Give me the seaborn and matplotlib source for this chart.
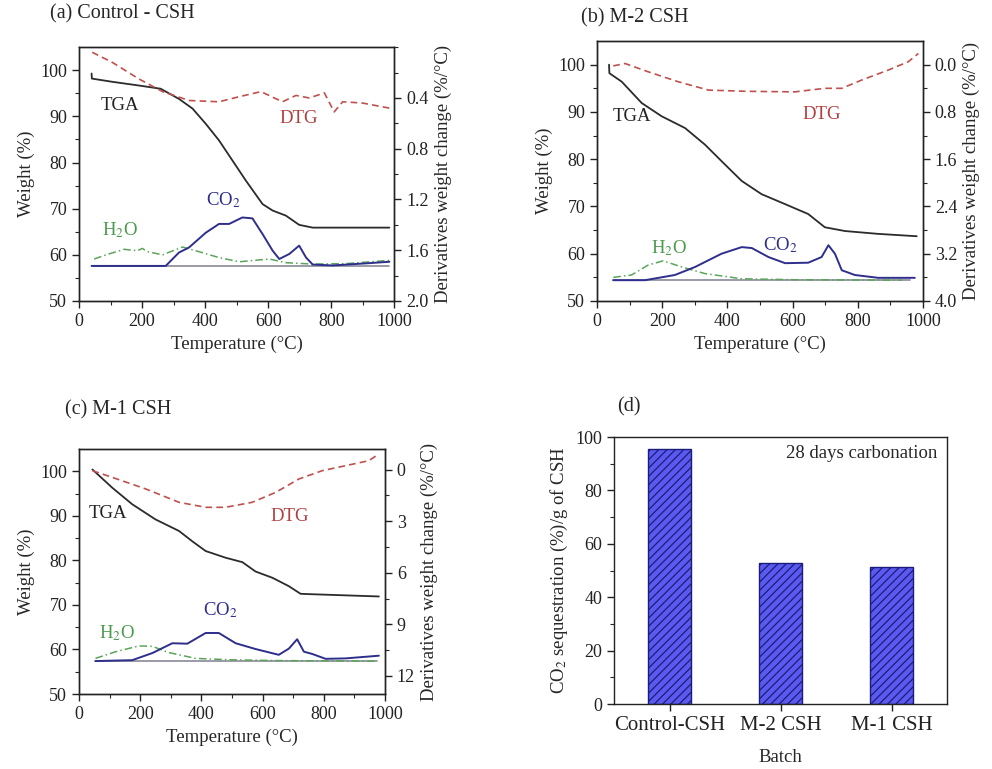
import numpy as np
import pandas as pd
import matplotlib
matplotlib.use("Agg")
import matplotlib.pyplot as plt
import seaborn as sns

# ---------------- data ----------------
# Panel (a) Control - CSH
a_tga_x = [40, 41, 106, 190, 259, 317, 360, 402, 444, 487, 529, 582, 614, 656, 698, 741, 984]
a_tga_y = [99.3, 98.2, 97.5, 96.7, 96.0, 93.8, 91.7, 88.4, 84.8, 80.4, 76.1, 71.0, 69.6, 68.5, 66.5, 65.9, 65.9]
a_dtg_x = [42, 106, 190, 265, 349, 444, 508, 577, 645, 688, 730, 778, 809, 836, 899, 984]
a_dtg_y = [0.04, 0.12, 0.25, 0.35, 0.42, 0.43, 0.39, 0.35, 0.43, 0.38, 0.40, 0.36, 0.51, 0.43, 0.44, 0.48]
a_co2_x = [40, 275, 317, 349, 402, 444, 476, 518, 550, 582, 614, 635, 667, 698, 720, 741, 804, 920, 984]
a_co2_y = [57.6, 57.6, 60.5, 61.6, 64.8, 66.7, 66.7, 68.1, 67.9, 64.5, 60.9, 59.1, 60.2, 62.0, 59.4, 57.9, 57.7, 58.2, 58.5]
a_h2o_x = [48, 95, 143, 185, 201, 217, 265, 328, 370, 444, 508, 603, 656, 741, 846, 984]
a_h2o_y = [59.1, 60.2, 61.2, 60.9, 61.4, 60.7, 60.0, 61.7, 60.9, 59.4, 58.5, 59.1, 58.3, 58.0, 58.1, 58.8]
a_base_x = [40, 984]
a_base_y = [57.6, 57.6]

# Panel (b) M-2 CSH
b_tga_x = [37, 38, 76, 137, 198, 270, 331, 382, 444, 505, 577, 648, 699, 761, 863, 981]
b_tga_y = [100.0, 98.2, 96.4, 91.9, 89.1, 86.6, 83.1, 79.6, 75.4, 72.6, 70.5, 68.4, 65.6, 64.8, 64.2, 63.7]
b_dtg_x = [50, 86, 157, 250, 342, 454, 607, 699, 751, 812, 894, 955, 986]
b_dtg_y = [0.02, -0.02, 0.12, 0.29, 0.43, 0.45, 0.46, 0.40, 0.40, 0.26, 0.09, -0.05, -0.19]
b_co2_x = [50, 147, 239, 301, 382, 444, 475, 526, 577, 648, 689, 710, 730, 751, 791, 863, 975]
b_co2_y = [54.4, 54.4, 55.5, 57.2, 60.0, 61.4, 61.2, 59.3, 58.0, 58.1, 59.3, 61.8, 60.0, 56.5, 55.5, 54.9, 54.9]
b_h2o_x = [50, 106, 157, 203, 260, 331, 444, 607, 935]
b_h2o_y = [55.0, 55.5, 57.6, 58.5, 57.2, 55.8, 54.7, 54.5, 54.4]
b_base_x = [50, 960]
b_base_y = [54.4, 54.4]

# Panel (c) M-1 CSH
c_tga_x = [44, 109, 174, 250, 327, 370, 414, 479, 534, 577, 632, 686, 724, 762, 980]
c_tga_y = [100.4, 96.3, 92.6, 89.2, 86.6, 84.3, 82.1, 80.6, 79.6, 77.5, 76.1, 74.2, 72.5, 72.4, 71.9]
c_dtg_x = [44, 109, 218, 327, 414, 479, 566, 643, 719, 795, 871, 947, 980]
c_dtg_y = [0.06, 0.45, 1.12, 1.90, 2.19, 2.19, 1.90, 1.32, 0.54, 0.06, -0.23, -0.52, -0.91]
c_co2_x = [54, 174, 240, 305, 354, 414, 457, 512, 577, 653, 686, 713, 735, 762, 806, 871, 980]
c_co2_y = [57.4, 57.6, 59.2, 61.4, 61.3, 63.7, 63.7, 61.4, 60.1, 58.8, 60.2, 62.3, 59.5, 59.0, 57.9, 58.0, 58.6]
c_h2o_x = [54, 120, 196, 240, 294, 381, 490, 653, 969]
c_h2o_y = [58.0, 59.5, 60.8, 60.7, 59.3, 58.0, 57.7, 57.5, 57.4]
c_base_x = [54, 975]
c_base_y = [57.4, 57.4]

# Panel (d)
batches = ["Control-CSH", "M-2 CSH", "M-1 CSH"]
sequestration = [95.5, 53.0, 51.2]

# ---------------- style ----------------
sns.set_theme(style="ticks")
plt.rcParams["font.family"] = ["Liberation Serif", "DejaVu Serif"]
plt.rcParams["mathtext.fontset"] = "stix"
plt.rcParams["hatch.linewidth"] = 0.9

C_TGA = "#2b2b2b"
C_DTG = "#c0504d"
C_CO2 = "#2e2e8c"
C_H2O = "#5aa55a"
C_BASE = "#8a8a9a"
TICK = 13
LAB = 13.5

fig = plt.figure(figsize=(9.92, 7.69), dpi=100)


def style_axis(ax):
    for s in ax.spines.values():
        s.set_linewidth(1.0)
        s.set_color("#222222")
    ax.tick_params(direction="out", length=5, width=1, labelsize=TICK, colors="#222222")
    ax.tick_params(which="minor", direction="out", length=3, width=0.8)


def tga_panel(rect, tga, dtg, co2, h2o, base, rlim, rmajor, rminor, rfmt, labels, title, title_xy):
    ax = fig.add_axes(rect)
    sns.lineplot(x=tga[0], y=tga[1], ax=ax, color=C_TGA, lw=1.3, sort=False)
    sns.lineplot(x=base[0], y=base[1], ax=ax, color=C_BASE, lw=1.2, sort=False)
    sns.lineplot(x=h2o[0], y=h2o[1], ax=ax, color=C_H2O, lw=1.1, sort=False, linestyle=(0, (5, 2, 1, 2)))
    sns.lineplot(x=co2[0], y=co2[1], ax=ax, color=C_CO2, lw=1.4, sort=False)
    ax.set_xlim(0, 1000)
    ax.set_ylim(50, 105)
    ax.set_xticks(np.arange(0, 1001, 200))
    ax.set_xticks(np.arange(0, 1001, 100), minor=True)
    ax.set_yticks(np.arange(50, 101, 10))
    ax.set_yticks(np.arange(50, 105, 5), minor=True)
    ax.set_xlabel("Temperature (°C)", fontsize=LAB)
    ax.set_ylabel("Weight (%)", fontsize=LAB)
    style_axis(ax)
    ax.tick_params(top=False)

    ax2 = ax.twinx()
    sns.lineplot(x=dtg[0], y=dtg[1], ax=ax2, color=C_DTG, lw=1.2, sort=False, linestyle=(0, (4, 2.5)))
    ax2.set_ylim(rlim[1], rlim[0])
    ax2.set_yticks(rmajor)
    ax2.set_yticks(rminor, minor=True)
    ax2.set_yticklabels([rfmt.format(v) for v in rmajor])
    ax2.set_ylabel("Derivatives weight change (%/°C)", fontsize=LAB)
    ax2.set_xlabel("")
    style_axis(ax2)

    (tx, ty), (dx, dy), (cx, cy), (hx, hy) = labels
    ax.text(tx, ty, "TGA", color="#222222", fontsize=LAB, ha="center", va="center")
    ax.text(dx, dy, "DTG", color="#b04040", fontsize=LAB, ha="center", va="center")
    ax.text(cx, cy, "CO$_2$", color=C_CO2, fontsize=LAB, ha="center", va="center")
    ax.text(hx, hy, "H$_2$O", color="#4c9a4c", fontsize=LAB, ha="center", va="center")
    fig.text(title_xy[0], title_xy[1], title, fontsize=14.5, ha="left", va="center")
    return ax, ax2


tga_panel([0.0796, 0.6086, 0.318, 0.330],
          (a_tga_x, a_tga_y), (a_dtg_x, a_dtg_y), (a_co2_x, a_co2_y), (a_h2o_x, a_h2o_y), (a_base_x, a_base_y),
          (0.0, 2.0), [0.4, 0.8, 1.2, 1.6, 2.0], np.arange(0.0, 2.01, 0.2), "{:.1f}",
          [(130, 92.4), (696, 89.5), (458, 71.9), (130, 65.4)],
          "(a) Control - CSH", (50 / 992, 1 - 14 / 769))

tga_panel([0.6018, 0.6086, 0.3286, 0.338],
          (b_tga_x, b_tga_y), (b_dtg_x, b_dtg_y), (b_co2_x, b_co2_y), (b_h2o_x, b_h2o_y), (b_base_x, b_base_y),
          (-0.4, 4.0), [0.0, 0.8, 1.6, 2.4, 3.2, 4.0], np.arange(0.0, 4.01, 0.4), "{:.1f}",
          [(107, 89.1), (690, 89.5), (562, 61.8), (220, 61.1)],
          "(b) M-2 CSH", (581 / 992, 1 - 18 / 769))

tga_panel([0.0796, 0.0975, 0.3085, 0.3186],
          (c_tga_x, c_tga_y), (c_dtg_x, c_dtg_y), (c_co2_x, c_co2_y), (c_h2o_x, c_h2o_y), (c_base_x, c_base_y),
          (-1.2, 13.05), [0, 3, 6, 9, 12], np.arange(0, 12.1, 1.5), "{:d}",
          [(96, 90.6), (690, 89.9), (461, 68.9), (123, 63.7)],
          "(c) M-1 CSH", (65 / 992, 1 - 410 / 769))

# Panel (d)
axd = fig.add_axes([0.619, 0.0845, 0.3357, 0.3472])
df = pd.DataFrame({"Batch": batches, "Seq": sequestration})
sns.barplot(data=df, x="Batch", y="Seq", ax=axd, width=0.39, color="#5a5af0",
            edgecolor="#1c1c7a", linewidth=1.0, hatch="////", saturation=1)
axd.set_xlim(-0.5, 2.5)
axd.set_ylim(0, 100)
axd.set_yticks(np.arange(0, 101, 20))
axd.set_yticks(np.arange(0, 101, 10), minor=True)
axd.set_ylabel("CO$_2$ sequestration (%)/g of CSH", fontsize=LAB)
axd.set_xlabel("Batch", fontsize=LAB, labelpad=10)
style_axis(axd)
axd.tick_params(axis="x", labelsize=15)
axd.text(0.97, 0.94, "28 days carbonation", transform=axd.transAxes, fontsize=13.5, ha="right", va="center")
fig.text(617 / 992, 1 - 407 / 769, "(d)", fontsize=14.5, ha="left", va="center")

fig.savefig("out.png", dpi=100, facecolor="white")
